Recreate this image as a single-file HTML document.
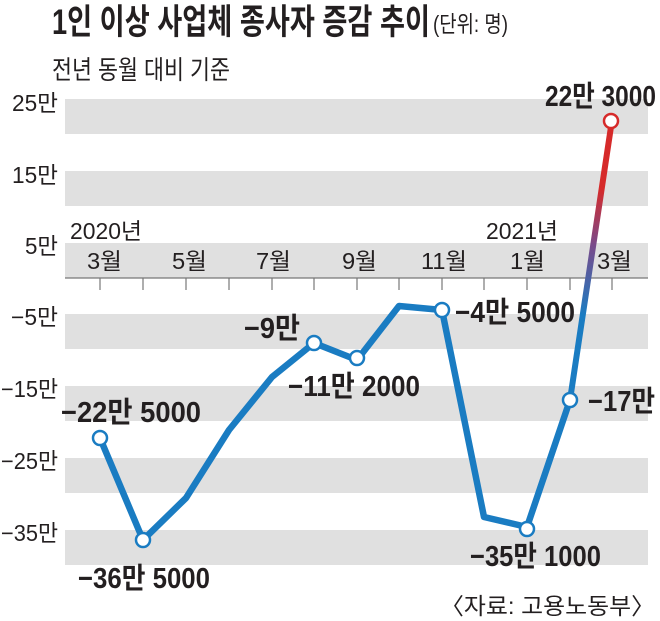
<!DOCTYPE html>
<html><head><meta charset="utf-8"><style>
html,body{margin:0;padding:0;background:#fff;}
svg{display:block;}
text{font-family:"Liberation Sans","Noto Sans CJK KR",sans-serif;fill:#231f20;}
</style></head><body>
<svg width="660" height="621" viewBox="0 0 660 621" xmlns="http://www.w3.org/2000/svg">
<defs>
<linearGradient id="g" x1="0" y1="400" x2="0" y2="118" gradientUnits="userSpaceOnUse">
<stop offset="0" stop-color="#1a7cc2"/><stop offset="0.3" stop-color="#1a7cc2"/>
<stop offset="0.55" stop-color="#7a4a8a"/><stop offset="0.75" stop-color="#d62a2a"/><stop offset="1" stop-color="#d62a2a"/>
</linearGradient>
</defs>
<text x="52" y="34" font-size="35" font-weight="bold" textLength="378" lengthAdjust="spacingAndGlyphs">1인 이상 사업체 종사자 증감 추이</text>
<text x="433" y="32" font-size="23" textLength="75" lengthAdjust="spacingAndGlyphs">(단위: 명)</text>
<text x="52" y="79" font-size="26" textLength="178" lengthAdjust="spacingAndGlyphs">전년 동월 대비 기준</text>
<g fill="#e0e0e0">
<rect x="65" y="99" width="583" height="35"/>
<rect x="65" y="171" width="583" height="35"/>
<rect x="65" y="243" width="583" height="35"/>
<rect x="65" y="314" width="583" height="35"/>
<rect x="65" y="386" width="583" height="35"/>
<rect x="65" y="458" width="583" height="35"/>
<rect x="65" y="530" width="583" height="35"/>
</g>
<line x1="65" y1="278" x2="648" y2="278" stroke="#777" stroke-width="1.2"/>
<g stroke="#777" stroke-width="1.2">
<line x1="100" y1="278" x2="100" y2="290"/><line x1="143" y1="278" x2="143" y2="290"/><line x1="186" y1="278" x2="186" y2="290"/><line x1="229" y1="278" x2="229" y2="290"/><line x1="272" y1="278" x2="272" y2="290"/><line x1="314" y1="278" x2="314" y2="290"/><line x1="357" y1="278" x2="357" y2="290"/><line x1="399" y1="278" x2="399" y2="290"/><line x1="442" y1="278" x2="442" y2="290"/><line x1="484" y1="278" x2="484" y2="290"/><line x1="527" y1="278" x2="527" y2="290"/><line x1="570" y1="278" x2="570" y2="290"/><line x1="612" y1="278" x2="612" y2="290"/>
</g>
<g font-size="23">
<text x="12" y="111" textLength="46" lengthAdjust="spacingAndGlyphs">25만</text>
<text x="12" y="183" textLength="46" lengthAdjust="spacingAndGlyphs">15만</text>
<text x="25" y="254" textLength="33" lengthAdjust="spacingAndGlyphs">5만</text>
<text x="11" y="325" textLength="47" lengthAdjust="spacingAndGlyphs">−5만</text>
<text x="1" y="397" textLength="57" lengthAdjust="spacingAndGlyphs">−15만</text>
<text x="1" y="469" textLength="57" lengthAdjust="spacingAndGlyphs">−25만</text>
<text x="1" y="541" textLength="57" lengthAdjust="spacingAndGlyphs">−35만</text>
</g>
<g font-size="23">
<text x="87" y="269" textLength="35" lengthAdjust="spacingAndGlyphs">3월</text>
<text x="172" y="269" textLength="35" lengthAdjust="spacingAndGlyphs">5월</text>
<text x="256" y="269" textLength="35" lengthAdjust="spacingAndGlyphs">7월</text>
<text x="342" y="269" textLength="35" lengthAdjust="spacingAndGlyphs">9월</text>
<text x="421" y="269" textLength="46" lengthAdjust="spacingAndGlyphs">11월</text>
<text x="510" y="269" textLength="35" lengthAdjust="spacingAndGlyphs">1월</text>
<text x="597" y="269" textLength="35" lengthAdjust="spacingAndGlyphs">3월</text>
</g>
<text x="70" y="239" font-size="23" textLength="72" lengthAdjust="spacingAndGlyphs">2020년</text>
<text x="486" y="239" font-size="23" textLength="72" lengthAdjust="spacingAndGlyphs">2021년</text>
<polyline points="100,438 143,540 186,498 229,430 272,377 314,343 357,360 399,306 442,310 484,517 527,527 570,400" fill="none" stroke="#1a7cc2" stroke-width="6.5" stroke-linejoin="round"/>
<line x1="570" y1="400" x2="612" y2="120" stroke="url(#g)" stroke-width="6"/>
<g fill="#fff" stroke="#1a7cc2" stroke-width="2.5">
<circle cx="100" cy="438" r="7"/><circle cx="143" cy="540" r="7"/><circle cx="314" cy="343" r="7"/><circle cx="357" cy="358" r="7"/><circle cx="442" cy="310" r="7"/><circle cx="527" cy="529" r="7"/><circle cx="570" cy="400" r="7"/>
</g>
<circle cx="611" cy="121" r="7" fill="#fff" stroke="#d62a2a" stroke-width="2.5"/>
<g font-size="29" font-weight="bold">
<text x="61" y="422" textLength="140" lengthAdjust="spacingAndGlyphs">−22만 5000</text>
<text x="78" y="588" textLength="132" lengthAdjust="spacingAndGlyphs">−36만 5000</text>
<text x="244" y="338" textLength="56" lengthAdjust="spacingAndGlyphs">−9만</text>
<text x="288" y="396" textLength="132" lengthAdjust="spacingAndGlyphs">−11만 2000</text>
<text x="455" y="322" textLength="120" lengthAdjust="spacingAndGlyphs">−4만 5000</text>
<text x="470" y="566" textLength="131" lengthAdjust="spacingAndGlyphs">−35만 1000</text>
<text x="588" y="411" textLength="67" lengthAdjust="spacingAndGlyphs">−17만</text>
<text x="545" y="106" textLength="111" lengthAdjust="spacingAndGlyphs">22만 3000</text>
</g>
<text x="440" y="614" font-size="23" textLength="215" lengthAdjust="spacingAndGlyphs">〈자료: 고용노동부〉</text>
</svg>
</body></html>
